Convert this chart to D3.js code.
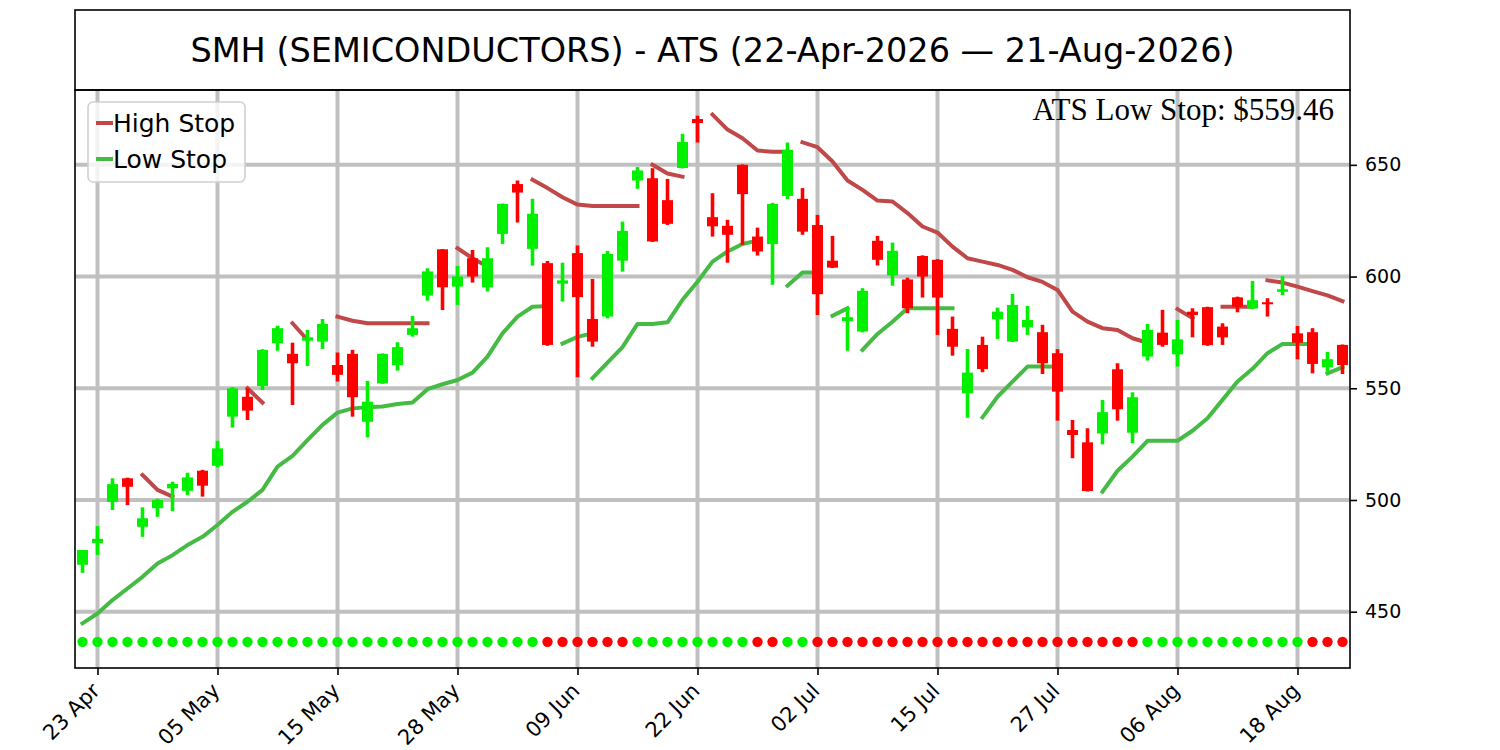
<!DOCTYPE html>
<html>
<head>
<meta charset="utf-8">
<title>SMH (SEMICONDUCTORS) - ATS</title>
<script src="https://d3js.org/d3.v7.min.js"></script>
<style>
    body { margin: 0; background: #fff; }
    svg { font-family: "DejaVu Sans", sans-serif; }
    .grid line { stroke: #c0c0c0; stroke-width: 4; }
    .axis line { stroke: #000; stroke-width: 1.6; }
    .axis path { display: none; }
</style>
</head>
<body>
<svg width="1500" height="750"></svg>
<script>
// trading days, one candle each
const dates = [
    "2026-04-22","2026-04-23","2026-04-24","2026-04-27","2026-04-28","2026-04-29","2026-04-30",
    "2026-05-01","2026-05-04","2026-05-05","2026-05-06","2026-05-07","2026-05-08","2026-05-11",
    "2026-05-12","2026-05-13","2026-05-14","2026-05-15","2026-05-18","2026-05-19","2026-05-20",
    "2026-05-21","2026-05-22","2026-05-26","2026-05-27","2026-05-28","2026-05-29",
    "2026-06-01","2026-06-02","2026-06-03","2026-06-04","2026-06-05","2026-06-08","2026-06-09",
    "2026-06-10","2026-06-11","2026-06-12","2026-06-15","2026-06-16","2026-06-17","2026-06-18",
    "2026-06-22","2026-06-23","2026-06-24","2026-06-25","2026-06-26","2026-06-29","2026-06-30",
    "2026-07-01","2026-07-02","2026-07-06","2026-07-07","2026-07-08","2026-07-09","2026-07-10",
    "2026-07-13","2026-07-14","2026-07-15","2026-07-16","2026-07-17","2026-07-20","2026-07-21",
    "2026-07-22","2026-07-23","2026-07-24","2026-07-27","2026-07-28","2026-07-29","2026-07-30",
    "2026-07-31","2026-08-03","2026-08-04","2026-08-05","2026-08-06","2026-08-07","2026-08-10",
    "2026-08-11","2026-08-12","2026-08-13","2026-08-14","2026-08-17","2026-08-18","2026-08-19",
    "2026-08-20","2026-08-21"
];

const opens = [
    471.0, 480.8, 499.2, 509.7, 488.0, 496.3, 505.2, 504.1, 513.1, 515.3,
    537.3, 546.2, 551.0, 570.2, 565.4, 571.3, 570.9, 560.4, 565.4, 535.0,
    552.2, 560.4, 573.9, 591.5, 612.2, 595.5, 608.2, 595.2, 619.1, 641.4,
    612.4, 606.0, 596.8, 610.5, 581.0, 582.1, 607.1, 643.0, 644.0, 634.2,
    648.6, 670.5, 626.6, 622.7, 650.0, 617.9, 614.6, 636.1, 634.8, 623.1,
    607.1, 580.1, 575.4, 616.0, 600.5, 598.7, 609.2, 607.5, 576.6, 547.8,
    569.4, 580.9, 570.9, 577.3, 575.1, 565.7, 531.3, 525.8, 529.8, 558.5,
    530.1, 564.2, 574.9, 565.2, 584.3, 586.3, 577.6, 590.7, 585.7, 588.5,
    593.2, 574.6, 575.1, 559.4, 569.4
];
const highs = [
    477.6, 488.3, 509.7, 510.0, 496.7, 500.5, 508.2, 512.2, 513.5, 526.5,
    550.5, 550.0, 567.5, 578.0, 570.4, 576.1, 581.0, 566.0, 567.2, 553.3,
    565.6, 570.6, 582.4, 603.7, 612.3, 604.8, 611.9, 613.1, 632.7, 643.0,
    634.8, 607.0, 606.2, 613.9, 598.9, 611.5, 624.6, 649.0, 648.5, 643.7,
    663.9, 672.0, 637.3, 625.4, 650.2, 621.9, 633.0, 660.0, 639.6, 627.6,
    618.2, 586.3, 594.8, 618.2, 615.2, 599.5, 609.5, 607.8, 582.1, 567.6,
    573.1, 586.1, 592.2, 586.9, 578.4, 567.5, 535.8, 532.1, 544.8, 561.2,
    548.2, 578.8, 585.1, 580.6, 585.8, 586.5, 579.1, 591.0, 598.0, 590.3,
    600.2, 577.9, 576.9, 566.3, 569.6
];
const lows = [
    467.4, 475.4, 495.5, 497.7, 483.5, 492.5, 495.0, 502.2, 501.5, 514.6,
    532.4, 535.8, 549.2, 566.8, 542.5, 560.0, 567.6, 553.0, 537.3, 528.0,
    552.0, 557.9, 573.1, 589.2, 585.0, 587.3, 597.3, 593.3, 614.6, 624.2,
    604.9, 569.0, 588.8, 554.9, 568.6, 581.3, 602.2, 639.3, 615.5, 623.1,
    648.4, 660.0, 617.9, 606.2, 614.2, 609.4, 596.3, 634.7, 618.7, 582.8,
    603.8, 566.8, 575.0, 605.0, 595.9, 583.6, 590.6, 573.9, 564.6, 536.8,
    557.2, 572.1, 570.7, 573.9, 556.4, 535.5, 518.7, 503.8, 524.9, 535.5,
    525.4, 562.4, 568.6, 559.7, 572.8, 569.0, 569.4, 584.0, 585.4, 582.1,
    591.7, 563.0, 556.7, 557.4, 556.4
];
const closes = [
    477.6, 482.6, 507.1, 505.9, 491.8, 500.0, 507.2, 510.1, 506.4, 523.1,
    550.0, 540.0, 567.2, 576.9, 561.2, 572.8, 578.8, 556.0, 546.0, 544.0,
    565.4, 568.4, 576.9, 602.3, 595.2, 600.0, 600.0, 608.2, 632.5, 637.6,
    628.1, 569.4, 598.3, 590.8, 570.9, 610.1, 620.4, 647.5, 615.7, 623.6,
    660.2, 668.7, 622.5, 618.7, 636.9, 611.2, 632.5, 656.7, 620.1, 592.1,
    604.0, 581.8, 593.6, 607.5, 611.5, 585.8, 600.0, 590.6, 568.6, 557.0,
    558.6, 584.3, 587.3, 580.6, 561.2, 548.5, 529.1, 504.0, 539.3, 540.6,
    546.0, 576.1, 569.4, 571.9, 582.8, 569.3, 572.8, 586.5, 589.4, 587.6,
    594.3, 570.4, 560.9, 563.0, 560.4
];

// ATS trend per day: 1 = up (green dot), -1 = down (red dot)
const trend = [
     1, 1, 1, 1, 1, 1, 1, 1, 1, 1, 1, 1, 1, 1, 1, 1, 1, 1, 1, 1,
     1, 1, 1, 1, 1, 1, 1, 1, 1, 1, 1,-1,-1,-1,-1,-1,-1, 1, 1, 1,
     1, 1, 1, 1, 1,-1,-1, 1, 1,-1,-1,-1,-1,-1,-1,-1,-1,-1,-1,-1,
    -1,-1,-1,-1,-1,-1,-1,-1,-1,-1,-1, 1, 1, 1, 1, 1, 1, 1, 1, 1,
     1, 1,-1,-1,-1
];
const dotLevel = 436.5;

// stop lines, drawn as separate runs: start = index of first day
const highStop = [
    { start: 4,  values: [511.2, 504.5, 501.5] },
    { start: 11, values: [550.0, 543.6] },
    { start: 14, values: [579.1, 571.6] },
    { start: 17, values: [582.1, 580.2, 579.1, 579.1, 579.1, 579.1, 579.1] },
    { start: 25, values: [612.7, 608.2, 604.5] },
    { start: 30, values: [643.3, 639.6, 635.5, 632.2, 631.6, 631.6, 631.6, 631.6] },
    { start: 38, values: [650.0, 646.1, 644.7] },
    { start: 42, values: [672.5, 665.8, 661.9, 656.4, 655.9, 655.9] },
    { start: 48, values: [660.1, 657.9, 651.5, 643.0, 638.8, 634.0, 633.6, 628.4, 622.4, 619.7,
                          613.4, 608.2, 606.7, 605.2, 603.0, 599.7, 597.6, 594.0, 584.3, 579.8,
                          576.9, 576.1, 572.4, 570.4] },
    { start: 73, values: [585.4, 581.4] },
    { start: 76, values: [586.5, 586.5, 586.5] },
    { start: 79, values: [598.3, 597.3, 595.5, 593.5, 591.6, 589.0] }
];
const lowStop = [
    { start: 0,  values: [444.8, 449.2, 455.2, 460.4, 465.6, 471.6, 475.3, 479.8, 483.5, 488.8,
                          494.7, 499.2, 504.5, 514.9, 519.7, 526.8, 533.6, 539.1, 541.0, 541.5,
                          541.8, 543.0, 543.6, 549.6, 551.8, 553.7, 557.0, 564.2, 574.6, 582.1,
                          586.5, 586.8] },
    { start: 32, values: [570.0, 573.0, 574.6] },
    { start: 34, values: [554.5, 561.5, 568.4, 578.8, 578.8, 579.5, 589.6, 597.7, 606.7, 611.2,
                          614.6, 616.1] },
    { start: 47, values: [595.9, 601.8, 601.8] },
    { start: 50, values: [582.4, 585.8] },
    { start: 52, values: [567.2, 574.3, 579.8, 585.8, 585.8, 585.8, 585.8] },
    { start: 60, values: [537.0, 546.2, 553.0, 559.7, 559.7, 559.6] },
    { start: 68, values: [503.7, 513.1, 519.4, 526.5, 526.5, 526.5, 531.0, 536.6, 544.8, 553.0,
                          558.7, 565.7, 569.8, 569.8, 569.8] },
    { start: 83, values: [556.7, 559.46] }
];

const yTicks = [450, 500, 550, 600, 650];
const xTickIdx = [1, 9, 17, 25, 33, 41, 49, 57, 65, 73, 81];

const titleText = "SMH (SEMICONDUCTORS) - ATS (22-Apr-2026 \u2014 21-Aug-2026)";
const lastLowStop = 559.46;

const upColor = "#00f000", downColor = "#ff0000";
const highColor = "#c04848", lowColor = "#45bb45";

const svg = d3.select("svg");
const plotLeft = 75, plotRight = 1350, plotTop = 90, plotBottom = 668, titleTop = 10;

const x = d3.scaleLinear().domain([-0.5, dates.length - 0.5]).range([plotLeft, plotRight]);
const y = d3.scaleLinear().domain([424.8, 683.5]).range([plotBottom, plotTop]);
const parse = d3.timeParse("%Y-%m-%d");
const fmt = d3.timeFormat("%d %b");

// grid
const grid = svg.append("g").attr("class", "grid");
grid.selectAll(".gx").data(xTickIdx).enter().append("line")
    .attr("x1", d => x(d)).attr("x2", d => x(d))
    .attr("y1", plotTop).attr("y2", plotBottom);
grid.selectAll(".gy").data(yTicks).enter().append("line")
    .attr("x1", plotLeft).attr("x2", plotRight)
    .attr("y1", d => y(d)).attr("y2", d => y(d));

// stop lines
const line = d3.line();
function drawStops(segs, color) {
    svg.append("g").selectAll("path").data(segs).enter().append("path")
        .attr("d", s => line(s.values.map((v, k) => [x(s.start + k), y(v)])))
        .attr("fill", "none")
        .attr("stroke", color)
        .attr("stroke-width", 4)
        .attr("stroke-linecap", "square")
        .attr("stroke-linejoin", "round");
}
drawStops(highStop, highColor);
drawStops(lowStop, lowColor);

// candles
const idx = d3.range(dates.length);
const bodyW = 11;
const candle = svg.append("g").selectAll("g").data(idx).enter().append("g")
    .attr("fill", i => closes[i] >= opens[i] ? upColor : downColor)
    .attr("stroke", i => closes[i] >= opens[i] ? upColor : downColor);
candle.append("line")
    .attr("x1", i => x(i)).attr("x2", i => x(i))
    .attr("y1", i => y(highs[i])).attr("y2", i => y(lows[i]))
    .attr("stroke-width", 3.6);
candle.append("rect")
    .attr("x", i => x(i) - bodyW / 2)
    .attr("width", bodyW)
    .attr("y", i => y(Math.max(opens[i], closes[i])))
    .attr("height", i => Math.max(1.5, y(Math.min(opens[i], closes[i])) - y(Math.max(opens[i], closes[i]))))
    .attr("stroke", "none");

// trend dots
svg.append("g").selectAll("circle").data(idx).enter().append("circle")
    .attr("cx", i => x(i))
    .attr("cy", y(dotLevel))
    .attr("r", 5.2)
    .attr("fill", i => trend[i] > 0 ? upColor : downColor);

// axes
const yAxis = svg.append("g").attr("class", "axis")
    .attr("transform", `translate(${plotRight},0)`)
    .call(d3.axisRight(y).tickValues(yTicks).tickSize(7).tickPadding(8));
yAxis.selectAll("text")
    .attr("font-size", 19)
    .attr("font-family", "DejaVu Sans")
    .attr("fill", "#000");

const xAxis = svg.append("g").attr("class", "axis")
    .attr("transform", `translate(0,${plotBottom})`)
    .call(d3.axisBottom(x).tickValues(xTickIdx).tickSize(7).tickFormat(i => fmt(parse(dates[i]))));
xAxis.selectAll("text")
    .attr("font-size", 21)
    .attr("font-family", "DejaVu Sans")
    .attr("fill", "#000")
    .attr("text-anchor", "end")
    .attr("dy", 0)
    .attr("y", 0)
    .attr("transform", "translate(3,24) rotate(-45)");

// frames
svg.append("rect")
    .attr("x", plotLeft).attr("y", plotTop)
    .attr("width", plotRight - plotLeft).attr("height", plotBottom - plotTop)
    .attr("fill", "none").attr("stroke", "#000").attr("stroke-width", 1.6);
svg.append("rect")
    .attr("x", plotLeft).attr("y", titleTop)
    .attr("width", plotRight - plotLeft).attr("height", plotTop - titleTop)
    .attr("fill", "none").attr("stroke", "#000").attr("stroke-width", 1.6);

svg.append("text")
    .attr("x", (plotLeft + plotRight) / 2).attr("y", 50)
    .attr("text-anchor", "middle").attr("dominant-baseline", "central")
    .attr("font-size", 33.5)
    .text(titleText);

svg.append("text")
    .attr("x", 1334).attr("y", 120)
    .attr("text-anchor", "end")
    .attr("font-family", "'Liberation Serif', 'Times New Roman', serif")
    .attr("font-size", 31)
    .text("ATS Low Stop: $" + lastLowStop.toFixed(2));

// legend
const legend = svg.append("g").attr("transform", "translate(88,102)");
legend.append("rect")
    .attr("width", 157).attr("height", 80).attr("rx", 5)
    .attr("fill", "#fff").attr("fill-opacity", 0.8)
    .attr("stroke", "#d0d0d0").attr("stroke-width", 1.6);
const items = [["High Stop", highColor], ["Low Stop", lowColor]];
const item = legend.selectAll(".item").data(items).enter().append("g")
    .attr("transform", (d, k) => `translate(0,${21 + k * 36})`);
item.append("line")
    .attr("x1", 8).attr("x2", 25)
    .attr("stroke", d => d[1]).attr("stroke-width", 4);
item.append("text")
    .attr("x", 25).attr("dy", "0.35em")
    .attr("font-size", 25)
    .text(d => d[0]);
</script>
</body>
</html>
